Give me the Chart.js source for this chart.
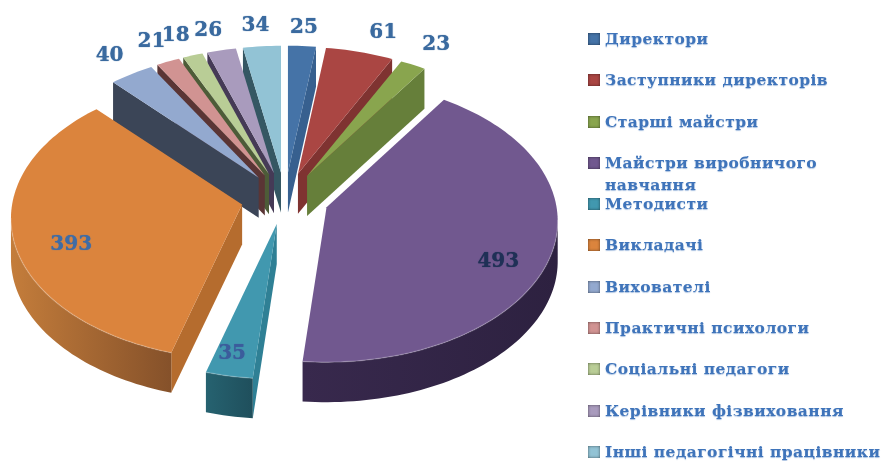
<!DOCTYPE html>
<html lang="uk">
<head>
<meta charset="utf-8">
<title>Педагогічні працівники</title>
<script src="https://cdn.jsdelivr.net/npm/chart.js@4"></script>
<style>
  html, body { margin: 0; background: #fff; }
  #wrap { position: relative; width: 882px; height: 461px; overflow: hidden; }
  canvas { filter: blur(0.4px); }
  #legend { position: absolute; left: 588px; top: 28px; margin: 0; padding: 0; list-style: none; filter: blur(0.3px); }
  #legend li { display: flex; height: 41.3px; }
  #legend i { width: 12px; height: 12px; margin: 5px 5px 0 0; box-shadow: inset 0 0 3px rgba(0,0,0,.55); }
  #legend span {
    font: bold 15.5px/22px "DejaVu Serif", serif;
    letter-spacing: 0.45px;
    color: #3f74ba;
    white-space: pre;
    text-shadow: 0 1px 1px rgba(63,116,186,.45);
  }
</style>
</head>
<body>
<div id="wrap">
  <canvas id="pie" width="882" height="461"></canvas>
  <ul id="legend"></ul>
</div>
<script>
const categories = [
  "Директори", "Заступники директорів", "Старші майстри",
  "Майстри виробничого\nнавчання", "Методисти", "Викладачі", "Вихователі",
  "Практичні психологи", "Соціальні педагоги", "Керівники фізвиховання",
  "Інші педагогічні працівники"
];
const values = [25, 61, 23, 493, 35, 393, 40, 21, 18, 26, 34];

const colors = ["#4573a7", "#aa4643", "#89a54e", "#71588f", "#4198af", "#db843d",
  "#93a9cf", "#d19392", "#b9cd96", "#a99bbd", "#92c3d5"];
// straight side of each slice
const wallColors = ["#37608f", "#7f3331", "#667f3a", "#4f3d66", "#2f8095", "#b56c2e",
  "#3b4557", "#5a3535", "#4d5c38", "#453a56", "#355763"];
// curved side, left to right
const rimColors = [
  ["#37608f", "#37608f"], ["#7f3331", "#7f3331"], ["#667f3a", "#667f3a"],
  ["#38294d", "#2d2140"], ["#266270", "#1f4f5c"], ["#c47d3b", "#85512a"],
  ["#3b4557", "#3b4557"], ["#5a3535", "#5a3535"], ["#4d5c38", "#4d5c38"],
  ["#453a56", "#453a56"], ["#355763", "#355763"]
];
const labelColors = ["#3a6a9f", "#3a6a9f", "#3a6a9f", "#1f3056", "#3b5c9c", "#3f6ca5",
  "#3a6a9f", "#3a6a9f", "#3a6a9f", "#3a6a9f", "#3a6a9f"];

// look of the tilted pie
const RX = 230, RY = 139.5, PERSPECTIVE = 0.1, DEPTH = 40, TIP_SCALE_Y = 0.945;
// where each value sits: radius and turn from the slice's middle angle (degrees)
const labelSpots = [
  [1.16, 0], [1.2, 3], [1.21, 0.8], [0.81, 8], [0.87, 1], [0.775, -8],
  [1.19, 0], [1.19, 0], [1.19, -1], [1.18, -1.2], [1.18, -0.8]
];

function tipOf(arc) {
  const mid = (arc.startAngle + arc.endAngle) / 2;
  const off = arc.options.offset / 4;
  return {
    x: arc.x + Math.cos(mid) * off * RX / arc.outerRadius,
    y: arc.y + Math.sin(mid) * off * TIP_SCALE_Y
  };
}

function rimPoint(tip, angle, rho) {
  const s = 1 / (1 - PERSPECTIVE * Math.sin(angle) * rho);
  return {
    x: tip.x + Math.cos(angle) * rho * RX * s,
    y: tip.y + Math.sin(angle) * rho * RY * s
  };
}

function fillPoly(ctx, pts, fill) {
  ctx.beginPath();
  pts.forEach((p, i) => (i ? ctx.lineTo(p.x, p.y) : ctx.moveTo(p.x, p.y)));
  ctx.closePath();
  ctx.fillStyle = fill;
  ctx.fill();
}

function wall(ctx, pts, fill) {
  const down = pts.slice().reverse().map(p => ({ x: p.x, y: p.y + DEPTH }));
  fillPoly(ctx, pts.concat(down), fill);
}

function drawSlice(ctx, arc, i) {
  const tip = tipOf(arc);
  const steps = Math.max(4, Math.ceil((arc.endAngle - arc.startAngle) * 40));
  const rim = [];
  for (let k = 0; k <= steps; k++) {
    rim.push(rimPoint(tip, arc.startAngle + (arc.endAngle - arc.startAngle) * k / steps, 1));
  }
  const first = rim[0], last = rim[rim.length - 1];

  // only sides that go leftwards on screen face the viewer
  if (first.x < tip.x) wall(ctx, [tip, first], wallColors[i]);
  if (tip.x < last.x) wall(ctx, [last, tip], wallColors[i]);

  const front = rim.filter((p, k) => (k && p.x < rim[k - 1].x) || (k + 1 < rim.length && rim[k + 1].x < p.x));
  if (front.length > 1) {
    const grad = ctx.createLinearGradient(front[front.length - 1].x, 0, front[0].x, 0);
    grad.addColorStop(0, rimColors[i][0]);
    grad.addColorStop(1, rimColors[i][1]);
    wall(ctx, front, grad);
  }

  fillPoly(ctx, [tip].concat(rim), colors[i]);

  if (front.length > 1) {
    ctx.beginPath();
    front.forEach((p, k) => (k ? ctx.lineTo(p.x, p.y) : ctx.moveTo(p.x, p.y)));
    ctx.strokeStyle = "rgba(255,255,255,.18)";
    ctx.lineWidth = 1.5;
    ctx.stroke();
  }
}

function drawLabel(ctx, arc, i) {
  const mid = (arc.startAngle + arc.endAngle) / 2;
  const spot = labelSpots[i];
  const at = rimPoint(tipOf(arc), mid + spot[1] * Math.PI / 180, spot[0]);
  ctx.fillStyle = labelColors[i];
  ctx.shadowColor = labelColors[i];
  ctx.shadowBlur = 1;
  ctx.fillText(String(values[i]), at.x, at.y);
  ctx.shadowBlur = 0;
}

const pie3d = {
  id: "pie3d",
  beforeDatasetDraw(chart, args) {
    const ctx = chart.ctx;
    const arcs = args.meta.data;
    // paint back slices first
    const order = arcs.map((a, i) => i).sort((a, b) =>
      Math.sin((arcs[a].startAngle + arcs[a].endAngle) / 2) -
      Math.sin((arcs[b].startAngle + arcs[b].endAngle) / 2));
    ctx.save();
    order.forEach(i => drawSlice(ctx, arcs[i], i));
    ctx.font = 'bold 20px "DejaVu Serif", serif';
    ctx.textAlign = "center";
    ctx.textBaseline = "middle";
    arcs.forEach((arc, i) => drawLabel(ctx, arc, i));
    ctx.restore();
    return false;
  }
};

new Chart(document.getElementById("pie"), {
  type: "pie",
  data: {
    labels: categories,
    datasets: [{ data: values, backgroundColor: colors, borderWidth: 0, offset: 110, hoverOffset: 0 }]
  },
  options: {
    responsive: false,
    animation: false,
    events: [],
    layout: { padding: { right: 312, bottom: 64 } },
    plugins: { legend: { display: false }, tooltip: { enabled: false } }
  },
  plugins: [pie3d]
});

const legend = document.getElementById("legend");
categories.forEach((name, i) => {
  const li = document.createElement("li");
  const box = document.createElement("i");
  box.style.background = colors[i];
  const text = document.createElement("span");
  text.textContent = name;
  li.append(box, text);
  legend.append(li);
});
</script>
</body>
</html>
